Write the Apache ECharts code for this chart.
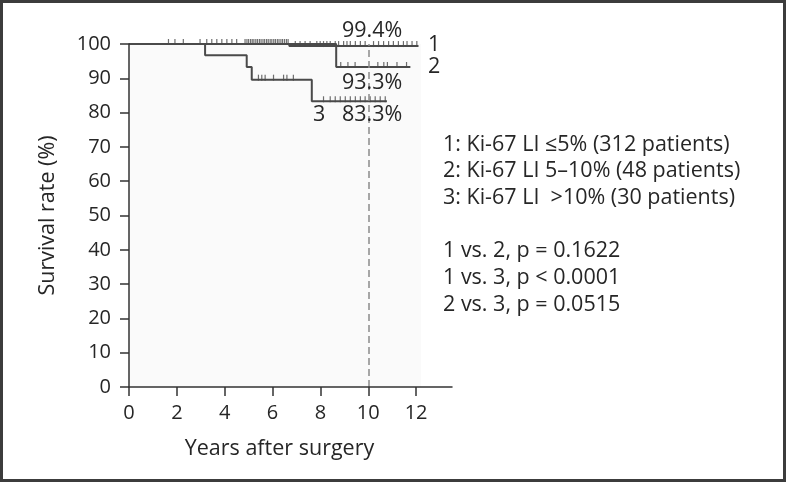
<!DOCTYPE html>
<html>
<head>
<meta charset="utf-8">
<script src="https://cdn.jsdelivr.net/npm/echarts@6/dist/echarts.min.js"></script>
<style>
html, body { margin: 0; padding: 0; background: #fff; }
#chart { width: 786px; height: 482px; }
</style>
</head>
<body>
<div id="chart"></div>
<script>
// Kaplan-Meier steps (years, survival %)
const g1Time = [0, 6.7, 12.1];
const g1Surv = [100, 99.4, 99.4];
const g2Time = [0, 8.66, 11.76];
const g2Surv = [100, 93.3, 93.3];
const g3Time = [0, 3.18, 4.92, 5.13, 7.64, 10.78];
const g3Surv = [100, 96.7, 93.3, 89.6, 83.3, 83.3];

// censored observations (years)
const g1Censor = [1.65, 1.92, 2.27, 2.97, 3.25, 3.46, 3.67, 3.88, 4.09, 4.3, 4.5,
    4.85, 4.93, 5.0, 5.08, 5.15, 5.22, 5.3, 5.37, 5.45, 5.52, 5.6, 5.67, 5.75, 5.82,
    5.9, 5.97, 6.05, 6.12, 6.2, 6.27, 6.35, 6.42, 6.5, 6.58, 6.65,
    6.95, 7.15, 7.36, 7.57, 7.85, 7.99, 8.13, 8.27, 8.41, 8.62, 8.76, 8.97, 9.11,
    9.25, 9.46, 9.67, 9.87, 10.22, 10.43, 10.64, 10.85, 11.05, 11.26, 11.47, 11.62,
    11.83, 12.03];
const g2Censor = [8.85, 9.15, 9.45, 10.4, 10.65, 10.8, 11.2, 11.6];
const g3Censor = [5.41, 5.55, 5.69, 6.04, 6.46, 6.6, 6.87, 8.13, 8.41, 8.62, 8.83,
    9.04, 9.25, 9.46, 9.67, 9.87, 10.08, 10.29, 10.5, 10.71];

const xTicks = [0, 2, 4, 6, 8, 10, 12];
const groupLabels = [
    '1: Ki-67 LI ≤5% (312 patients)',
    '2: Ki-67 LI 5–10% (48 patients)',
    '3: Ki-67 LI  >10% (30 patients)',
];
const pLabels = [
    '1 vs. 2, p = 0.1622',
    '1 vs. 3, p < 0.0001',
    '2 vs. 3, p = 0.0515',
];

const FONT = '"Open Sans", "Noto Sans", sans-serif';
const INK = '#4a4a4a';
const TXT = '#262626';

function survAt(times, surv, t) {
    let s = surv[0];
    for (let i = 0; i < times.length; i++) {
        if (times[i] <= t) s = surv[i];
    }
    return s;
}

function stepSeries(times, surv, extra) {
    return Object.assign({
        type: 'line',
        step: 'end',
        symbol: 'none',
        lineStyle: { color: INK, width: 2 },
        data: times.map((t, i) => [t, surv[i]]),
        z: 3,
    }, extra || {});
}

function censorSeries(censor, times, surv) {
    return {
        type: 'scatter',
        symbol: 'rect',
        symbolSize: [1.2, 6],
        symbolOffset: [0, -2],
        itemStyle: { color: INK },
        data: censor.map((t) => [t, survAt(times, surv, t)]),
        z: 4,
    };
}

function txt(text, x, y) {
    return {
        type: 'text',
        x: x,
        y: y,
        z: 100,
        style: {
            text: text,
            fontSize: 21.5,
            fontFamily: FONT,
            fill: TXT,
            verticalAlign: 'middle',
        },
    };
}

const chart = echarts.init(document.getElementById('chart'));

const option = {
    animation: false,
    grid: { left: 129, top: 44, right: 334, bottom: 95 },
    xAxis: {
        type: 'value',
        z: 10,
        min: 0,
        max: 13.5,
        interval: 2,
        name: 'Years after surgery',
        nameLocation: 'middle',
        nameGap: 51,
        nameTextStyle: { fontSize: 21.5, fontFamily: FONT, color: TXT, padding: [0, 22, 0, 0] },
        axisLine: { lineStyle: { color: '#333', width: 1.5 } },
        axisTick: { length: 9, lineStyle: { color: '#333', width: 1.5 }, customValues: xTicks },
        axisLabel: { fontSize: 20, fontFamily: FONT, color: TXT, margin: 16, customValues: xTicks },
        splitLine: { show: false },
    },
    yAxis: {
        type: 'value',
        z: 10,
        min: 0,
        max: 100,
        interval: 10,
        name: 'Survival rate (%)',
        nameLocation: 'middle',
        nameRotate: 90,
        nameGap: 70,
        nameTextStyle: { fontSize: 21.5, fontFamily: FONT, color: TXT },
        axisLine: { show: true, lineStyle: { color: '#333', width: 1.5 } },
        axisTick: { show: true, length: 9, lineStyle: { color: '#333', width: 1.5 } },
        axisLabel: { fontSize: 20, fontFamily: FONT, color: TXT, margin: 18 },
        splitLine: { show: false },
    },
    series: [
        {
            // faint plot background and the 10-year reference line
            type: 'line',
            data: [],
            z: 1,
            markArea: {
                silent: true,
                itemStyle: { color: '#fafafa' },
                data: [[{ coord: [0, 0] }, { coord: [12.2, 100] }]],
            },
            markLine: {
                silent: true,
                symbol: 'none',
                label: { show: false },
                lineStyle: { color: '#8a8a8a', type: [7, 4], width: 1.5 },
                data: [[{ coord: [10, 0] }, { coord: [10, 100] }]],
            },
        },
        stepSeries(g1Time, g1Surv),
        stepSeries(g2Time, g2Surv),
        stepSeries(g3Time, g3Surv),
        censorSeries(g1Censor, g1Time, g1Surv),
        censorSeries(g2Censor, g2Time, g2Surv),
        censorSeries(g3Censor, g3Time, g3Surv),
    ],
    graphic: [
        {
            type: 'rect',
            z: 100,
            shape: { x: 1.5, y: 1.5, width: 783, height: 479 },
            style: { fill: 'none', stroke: '#3c3c3c', lineWidth: 3 },
        },
        txt('99.4%', 342, 31),
        txt('1', 428, 45),
        txt('2', 428, 67),
        txt('93.3%', 342, 83),
        txt('3', 313, 115),
        txt('83.3%', 342, 115),
        ...groupLabels.map((s, i) => txt(s, 443, [145, 171, 198][i])),
        ...pLabels.map((s, i) => txt(s, 443, [251, 278, 305][i])),
    ],
};

chart.setOption(option);
</script>
</body>
</html>
